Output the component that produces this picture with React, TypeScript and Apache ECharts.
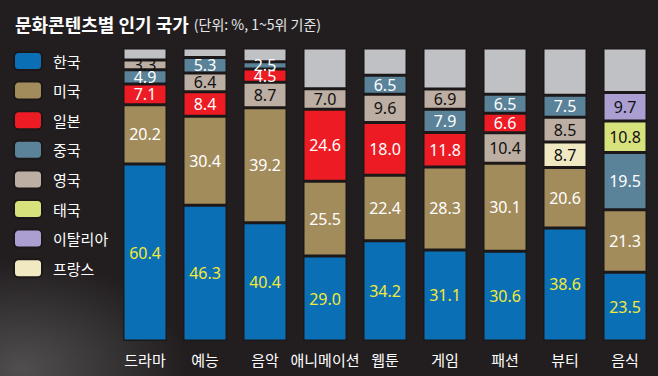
import React, { useEffect, useRef } from "react";
import * as echarts from "echarts";

const categories = ["드라마", "예능", "음악", "애니메이션", "웹툰", "게임", "패션", "뷰티", "음식"];
const countries = ["한국", "미국", "일본", "중국", "영국", "태국", "이탈리아", "프랑스"];
const countryColors = ["#0a6fb4", "#a38c5c", "#ed1c24", "#5a8299", "#bcaea2", "#d7e27d", "#ab9fd2", "#f0e9c2"];
const countryLabelColors = ["#f3e93a", "#ffffff", "#ffffff", "#ffffff", "#111111", "#111111", "#111111", "#111111"];

// values by rank (1st..5th) for each category, and which country holds that rank
const rank1Country = ["한국", "한국", "한국", "한국", "한국", "한국", "한국", "한국", "한국"];
const rank1Value = [60.4, 46.3, 40.4, 29.0, 34.2, 31.1, 30.6, 38.6, 23.5];
const rank2Country = ["미국", "미국", "미국", "미국", "미국", "미국", "미국", "미국", "미국"];
const rank2Value = [20.2, 30.4, 39.2, 25.5, 22.4, 28.3, 30.1, 20.6, 21.3];
const rank3Country = ["일본", "일본", "영국", "일본", "일본", "일본", "영국", "프랑스", "중국"];
const rank3Value = [7.1, 8.4, 8.7, 24.6, 18.0, 11.8, 10.4, 8.7, 19.5];
const rank4Country = ["중국", "영국", "일본", "영국", "영국", "중국", "일본", "영국", "태국"];
const rank4Value = [4.9, 6.4, 4.5, 7.0, 9.6, 7.9, 6.6, 8.5, 10.8];
const rank5Country = ["영국", "중국", "중국", null, "중국", "영국", "중국", "중국", "이탈리아"];
const rank5Value = [3.3, 5.3, 2.5, null, 6.5, 6.9, 6.5, 7.5, 9.7];

const rankCountries = [rank1Country, rank2Country, rank3Country, rank4Country, rank5Country];
const rankValues = [rank1Value, rank2Value, rank3Value, rank4Value, rank5Value];

export default function App() {
  const ref = useRef<HTMLDivElement>(null);
  useEffect(() => {
    if (!ref.current) return;
    const chart = echarts.init(ref.current, null, { renderer: "svg" });
    const border = { borderColor: "#1c1819", borderWidth: 1.5 };
    const rankSeries = rankValues.map((vals, r) => ({
      type: "bar",
      name: "rank" + (r + 1),
      stack: "total",
      barWidth: 44,
      zlevel: 1,
      z: 5 + r,
      data: vals.map((v, i) => {
        const c = rankCountries[r][i];
        if (v == null || c == null) return { value: 0, itemStyle: { borderWidth: 0 }, label: { show: false } };
        const idx = countries.indexOf(c);
        return {
          value: v,
          itemStyle: { color: countryColors[idx], ...border },
          label: { color: countryLabelColors[idx] },
        };
      }),
      label: {
        show: true,
        position: "inside",
        fontSize: 16,
        fontFamily: "Noto Sans",
        formatter: (p: any) => Number(p.value).toFixed(1),
      },
    }));
    const other = categories.map((_, i) => {
      let s = 0;
      rankValues.forEach((vals) => (s += vals[i] || 0));
      return +(100 - s).toFixed(1);
    });
    const legendSeries = countries.map((c, i) => ({
      type: "bar",
      name: c,
      stack: "total",
      data: [],
      itemStyle: { color: countryColors[i], borderColor: "#1c1819", borderWidth: 1 },
    }));
    chart.setOption({
      animation: false,
      backgroundColor: "#221e1f",
      title: {
        left: 10,
        top: 10,
        text: "{a|문화콘텐츠별 인기 국가} {b|(단위: %, 1~5위 기준)}",
        textStyle: {
          rich: {
            a: { fontSize: 18, fontWeight: "bold", color: "#ffffff", fontFamily: "Noto Sans CJK KR" },
            b: { fontSize: 14, fontWeight: "normal", color: "#e6e6e6", fontFamily: "Noto Sans CJK KR" },
          },
        },
      },
      legend: {
        orient: "vertical",
        left: 13,
        top: 51,
        padding: 0,
        itemWidth: 28,
        itemHeight: 18,
        itemGap: 9.6,
        data: countries,
        textStyle: { color: "#ffffff", fontSize: 15, lineHeight: 18, fontFamily: "Noto Sans CJK KR", padding: [0, 0, 0, 6] },
        selectedMode: false,
      },
      graphic: [
        {
          type: "rect",
          silent: true,
          z: -1,
          shape: { x: 0, y: 230, width: 220, height: 146 },
          style: {
            fill: new echarts.graphic.RadialGradient(0.1, 0.95, 0.75, [
              { offset: 0, color: "rgba(150,150,150,0.4)" },
              { offset: 1, color: "rgba(150,150,150,0)" },
            ]),
          },
        },
      ],
      grid: { left: 115, right: 3, top: 48, bottom: 35 },
      xAxis: {
        type: "category",
        data: categories,
        axisLine: { show: false },
        axisTick: { show: false },
        axisLabel: { color: "#ffffff", fontSize: 15, margin: 11, fontFamily: "Noto Sans CJK KR", interval: 0 },
      },
      yAxis: { type: "value", min: 0, max: 100, show: false, splitLine: { show: false } },
      series: [
        ...rankSeries,
        {
          type: "bar",
          name: "기타",
          stack: "total",
          z: 2,
          data: other,
          itemStyle: { color: "#c0c1c5", ...border },
          label: { show: false },
        },
        ...legendSeries,
      ],
    });
    return () => chart.dispose();
  }, []);
  return <div ref={ref} style={{ position: "absolute", left: 0, top: 0, width: 658, height: 376 }} />;
}
